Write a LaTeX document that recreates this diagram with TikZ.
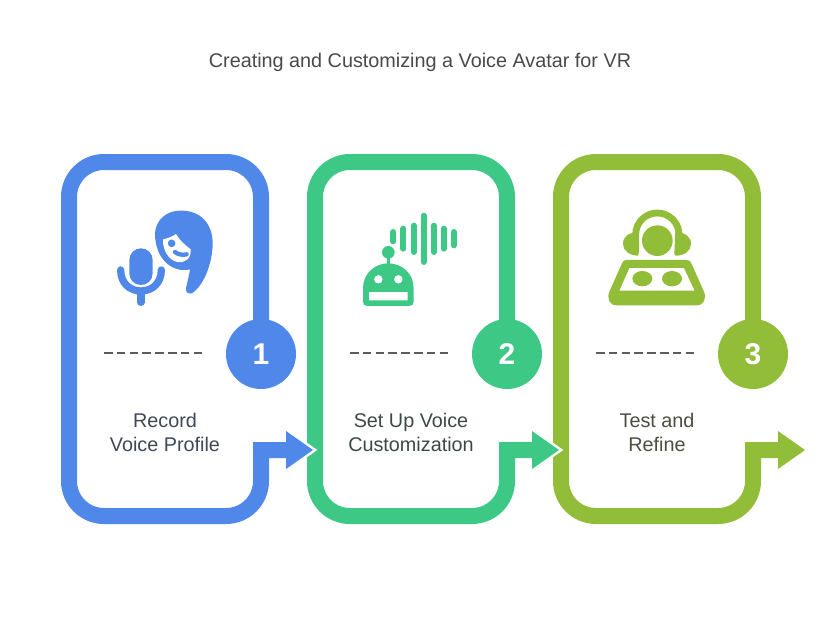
\documentclass[tikz,border=0pt]{standalone}
\usepackage{fontspec}
\setmainfont{Liberation Sans}
\usetikzlibrary{backgrounds}
\definecolor{cblue}{HTML}{4F88E8}
\definecolor{cgreen}{HTML}{3EC886}
\definecolor{clime}{HTML}{92BD39}
\definecolor{ctitle}{HTML}{4A4A4A}
\definecolor{tblue}{HTML}{3F4856}
\definecolor{tgreen}{HTML}{3C4A44}
\definecolor{tlime}{HTML}{4C4F40}
\tikzset{
  track/.style={line width=16pt,line join=miter},
  numdisc/.style={circle,minimum size=70pt,inner sep=0pt,text=white,font=\fontsize{30}{30}\selectfont\bfseries},
  lab/.style={align=center,font=\fontsize{19.8}{24}\selectfont},
  ttl/.style={font=\fontsize{19.8}{24}\selectfont,text=ctitle},
  dashrule/.style={line width=2pt,draw=ctitle!90,dash pattern=on 8.6pt off 4.2pt},
}
\newcommand{\trackfrom}[4]{% colour, x offset, disc, arrow end
  \draw[track,draw=#1,shift={(#2,162)}] (#3.center) -- (192,35)
    .. controls (192,15.67) and (176.33,0) .. (157,0) -- (35,0)
    .. controls (15.67,0) and (0,15.67) .. (0,35) -- (0,319)
    .. controls (0,338.33) and (15.67,354) .. (35,354) -- (157,354)
    .. controls (176.33,354) and (192,338.33) .. (192,319) -- (192,288) -- (#4);}
\begin{document}
\begin{tikzpicture}[x=1pt,y=-1pt]
\useasboundingbox (0,0) rectangle (840,624);
\node[ttl] (title) at (420,62) {Creating and Customizing a Voice Avatar for VR};

% discs
\node[numdisc,fill=cblue] (n1) at (261,354) {1};
\node[numdisc,fill=cgreen] (n2) at (507,354) {2};
\node[numdisc,fill=clime] (n3) at (753,354) {3};
\coordinate (a1) at (288,450);
\coordinate (a2) at (534,450);
\coordinate (a3) at (780,450);

\begin{scope}[on background layer]
\fill[white] (0,0) rectangle (840,624);
\trackfrom{cblue}{69}{n1}{a1}
\trackfrom{cgreen}{315}{n2}{a2}
\trackfrom{clime}{561}{n3}{a3}
% arrowheads
\fill[white] (286,428) -- (317.3,450) -- (286,472) -- cycle;
\fill[cblue] (286,431) -- (313,450) -- (286,469) -- cycle;
\fill[white] (532,428) -- (563.3,450) -- (532,472) -- cycle;
\fill[cgreen] (532,431) -- (559,450) -- (532,469) -- cycle;
\fill[clime] (778,431) -- (805,450) -- (778,469) -- cycle;
\end{scope}

% dashes
\coordinate (d1a) at (104,353); \coordinate (d1b) at (203,353);
\coordinate (d2a) at (350,353); \coordinate (d2b) at (449,353);
\coordinate (d3a) at (596,353); \coordinate (d3b) at (695,353);
\draw[dashrule] (d1a) -- (d1b);
\draw[dashrule] (d2a) -- (d2b);
\draw[dashrule] (d3a) -- (d3b);

% labels
\node[lab,text=tblue] (l1) at (165,432) {Record\\Voice Profile};
\node[lab,text=tgreen] (l2) at (411,432) {Set Up Voice\\Customization};
\node[lab,text=tlime] (l3) at (657,432) {Test and\\Refine};

% icon 1
\begin{scope}[shift={(90,190)},x=0.3333pt,y=-0.3333pt]
\fill[cblue] (270,62) .. controls (330,60) and (368,100) .. (368,160)
  .. controls (368,220) and (340,290) .. (305,310)
  .. controls (293,313) and (286,305) .. (288,295)
  .. controls (292,275) and (298,255) .. (300,238)
  .. controls (250,250) and (195,210) .. (195,130)
  .. controls (197,90) and (230,62) .. (270,62) -- cycle;
\fill[white] (219,148) .. controls (235,145) and (250,138) .. (258,132)
  .. controls (268,150) and (285,165) .. (302,178)
  .. controls (305,205) and (285,220) .. (262,216)
  .. controls (235,210) and (218,180) .. (219,148) -- cycle;
\fill[cblue] (245,160) circle (11.5);
\draw[cblue,line width=4.3pt,line cap=round] (255,186) .. controls (265,194) and (278,196) .. (290,193);
\fill[cblue] (118,210) .. controls (118,190) and (134,175) .. (153,175) .. controls (172,175) and (188,190) .. (188,210)
  -- (188,250) .. controls (188,270) and (172,285) .. (153,285) .. controls (134,285) and (118,270) .. (118,250) -- cycle;
\draw[cblue,line width=7.3pt,line cap=round] (92,240) .. controls (92,280) and (120,303) .. (153,303) .. controls (186,303) and (214,280) .. (214,240);
\draw[cblue,line width=7.3pt,line cap=round] (153,305) -- (153,337);
\end{scope}

% icon 2
\begin{scope}[shift={(340,195)},x=0.3333pt,y=-0.3333pt]
\foreach \xx/\ya/\yb in {160/111/139,190/101/161,221/92/171,251/62/201,281/92/171,311/101/161,341/111/151}
  \draw[cgreen,line width=6pt,line cap=round] (\xx,\ya) -- (\xx,\yb);
\fill[cgreen] (145,172) circle (19);
\draw[cgreen,line width=3pt] (145,185) -- (145,215);
\fill[cgreen,even odd rule] (69,320) -- (69,280) .. controls (69,235) and (105,205) .. (145,205)
  .. controls (185,205) and (221,235) .. (221,280) -- (221,320)
  .. controls (221,328) and (216,333) .. (208,333) -- (82,333) .. controls (74,333) and (69,328) .. (69,320) -- cycle
  (87,291) rectangle (203,316)
  (115,253) circle (13) (175,253) circle (13);
\end{scope}

% icon 3
\begin{scope}[shift={(590,200)},x=0.3333pt,y=-0.3333pt]
\fill[clime] (202,122) circle (46);
\draw[clime,line width=6.8pt] (137,160) -- (137,104) .. controls (137,68) and (166,39) .. (202,39) .. controls (238,39) and (267,68) .. (267,104) -- (267,160);
\fill[clime] (145,97) .. controls (115,97) and (99,110) .. (99,132) .. controls (99,153) and (120,167) .. (145,167) -- cycle;
\fill[clime] (256,97) .. controls (286,97) and (303,110) .. (303,132) .. controls (303,153) and (282,167) .. (258,167) .. controls (254,167) and (253,164) .. (253,160) -- cycle;
\fill[clime,even odd rule] (108,180) -- (290,180) .. controls (298,180) and (302,184) .. (305,192)
  -- (342,275) .. controls (350,295) and (342,316) .. (320,316) -- (80,316)
  .. controls (58,316) and (50,295) .. (58,275) -- (95,192) .. controls (98,184) and (102,180) .. (108,180) -- cycle
  (118,204) -- (282,204) -- (314,272) -- (88,272) -- cycle;
\fill[clime] (157,236) ellipse (30 and 23);
\fill[clime] (246,236) ellipse (30 and 23);
\end{scope}
\end{tikzpicture}
\end{document}
